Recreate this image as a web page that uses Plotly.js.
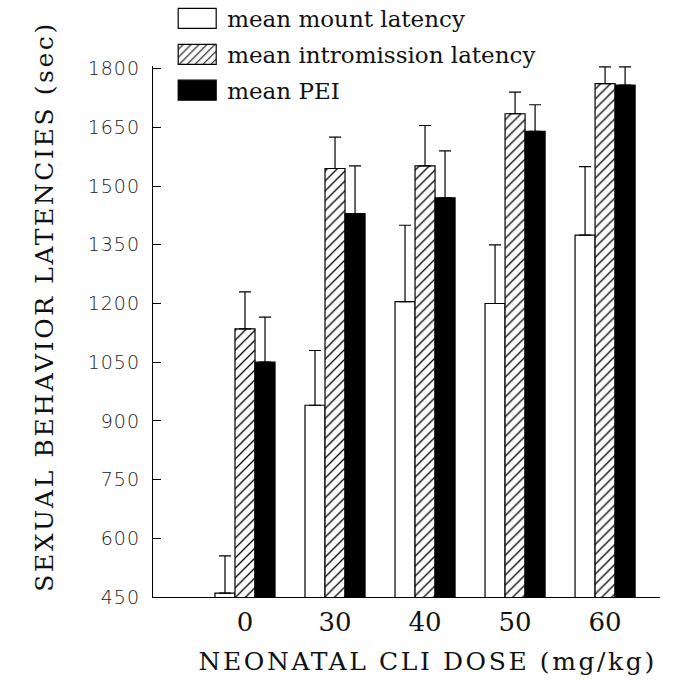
<!DOCTYPE html>
<html>
<head>
<meta charset="utf-8">
<script src="https://cdn.plot.ly/plotly-3.0.1.min.js"></script>
<style>
html,body{margin:0;padding:0;background:#fff;}
#chart{width:686px;height:680px;}
#chart .annotation-text {letter-spacing: 2.6px;}
#chart .ytick text {letter-spacing: 1px;}
</style>
</head>
<body>
<div id="chart"></div>
<script>
const doses = ['0', '30', '40', '50', '60'];
const doseIndex = [0, 1, 2, 3, 4];
const mountLatency = [460, 940, 1205, 1200, 1375];
const mountErr = [95, 140, 195, 150, 175];
const intromissionLatency = [1135, 1545, 1552, 1685, 1762];
const intromissionErr = [95, 80, 103, 55, 43];
const peiLatency = [1050, 1430, 1470, 1640, 1758];
const peiErr = [115, 122, 120, 68, 47];
const yTicks = [450, 600, 750, 900, 1050, 1200, 1350, 1500, 1650, 1800];
const xTitle = 'NEONATAL CLI DOSE (mg/kg)';
const yTitle = 'SEXUAL BEHAVIOR LATENCIES (sec)';

function err(arr) {
  return {type: 'data', symmetric: false, array: arr, arrayminus: arr.map(() => 0),
          color: '#000', thickness: 1.2, width: 6};
}
const outline = {color: '#000', width: 1.2};

const traces = [
  {type: 'bar', x: doseIndex, y: mountLatency, name: 'mean mount latency', legendgroup: 'a',
   marker: {color: '#fff', line: outline}, error_y: err(mountErr)},
  {type: 'bar', x: doseIndex, y: intromissionLatency, name: 'mean intromission latency', legendgroup: 'b',
   marker: {color: '#fff', line: outline,
            pattern: {shape: '/', fgcolor: '#000', bgcolor: '#fff', size: 7, solidity: 0.18}},
   error_y: err(intromissionErr)},
  {type: 'bar', x: doseIndex, y: peiLatency, name: 'mean PEI', legendgroup: 'c',
   marker: {color: '#000', line: outline}, error_y: err(peiErr)}
];

const titleFont = {family: 'DejaVu Serif', size: 25, color: '#111'};

const layout = {
  width: 686, height: 680,
  margin: {l: 153, r: 26, t: 66, b: 83, autoexpand: false},
  paper_bgcolor: '#fff', plot_bgcolor: '#fff',
  barmode: 'group', bargap: 0.333, bargroupgap: 0,
  showlegend: true,
  legend: {x: 0.028, y: 1.13, xanchor: 'left', yanchor: 'top',
           font: {family: 'DejaVu Serif', size: 23, color: '#111'},
           itemwidth: 50,
           traceorder: 'grouped', tracegroupgap: 3, bgcolor: 'rgba(0,0,0,0)'},
  xaxis: {
    range: [-1.022, 4.61], tickmode: 'array', tickvals: doseIndex, ticktext: doses,
    showline: true, linecolor: '#000', linewidth: 1.2, showgrid: false, zeroline: false,
    ticks: '', ticklabelstandoff: 2,
    tickfont: {family: 'DejaVu Serif', size: 26, color: '#111'}
  },
  yaxis: {
    range: [450, 1807], tickmode: 'array', tickvals: yTicks,
    showline: true, linecolor: '#000', linewidth: 1.2, showgrid: false, zeroline: false,
    ticks: 'inside', ticklen: 8, tickcolor: '#000', tickwidth: 1,
    ticklabelstandoff: 8,
    tickfont: {family: 'DejaVu Sans', size: 19, weight: 200, color: '#222'}
  },
  annotations: [
    {text: xTitle, xref: 'paper', yref: 'paper', x: 0.542, y: -0.122,
     xanchor: 'center', yanchor: 'middle', showarrow: false, font: titleFont},
    {text: yTitle, xref: 'paper', yref: 'paper', x: -0.213, y: 0.547, textangle: -90,
     xanchor: 'center', yanchor: 'middle', showarrow: false, font: titleFont}
  ]
};

Plotly.newPlot('chart', traces, layout, {displayModeBar: false, staticPlot: true}).then(gd => {
  // enlarge the legend swatches to the wide rectangles of the original figure
  gd.querySelectorAll('.legend .legendpoints path').forEach(p => {
    p.setAttribute('d', 'M19,10H-19V-10H19Z');
  });
});
</script>
</body>
</html>
